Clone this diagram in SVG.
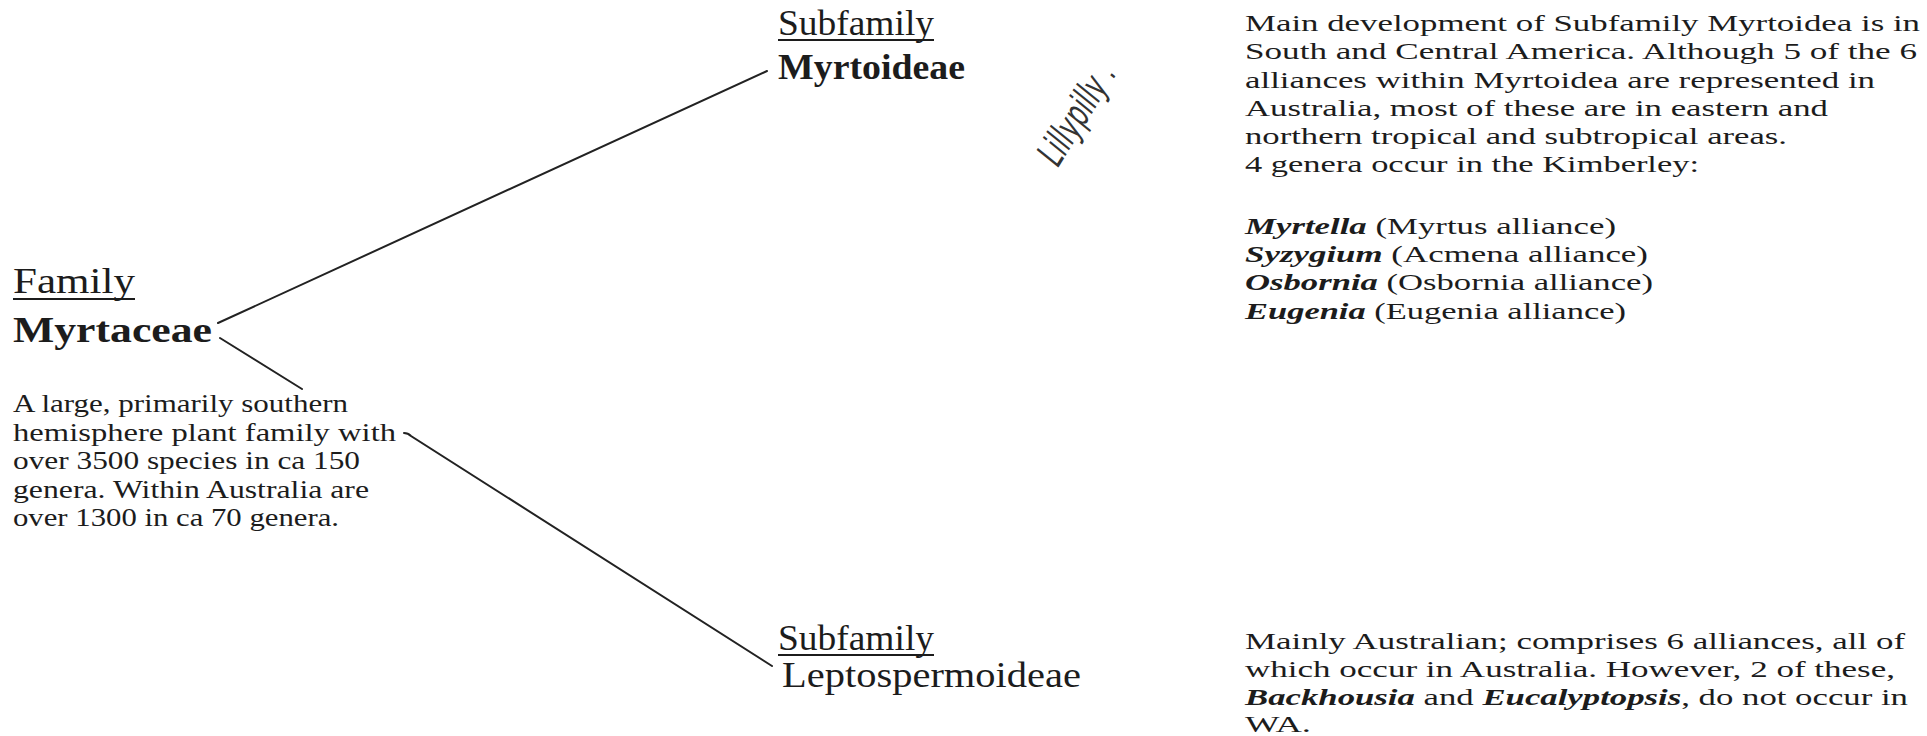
<svg xmlns="http://www.w3.org/2000/svg" width="1927" height="736" viewBox="0 0 1927 736">
<style>
  text { font-family: "Liberation Serif", "Times New Roman", serif; fill: #1c1c1c; }
  .head { font-size: 35px; }
  .bold { font-weight: bold; }
  .para { font-size: 25px; }
  .note { font-size: 24px; }
  .bi { font-style: italic; font-weight: bold; }
  .ul { stroke: #1c1c1c; stroke-width: 2; }
  .conn { stroke: #222; stroke-width: 2; fill: none; stroke-linecap: round; }
  .hand { font-family: "DejaVu Sans", "Liberation Sans", sans-serif; font-style: italic; font-weight: 200; font-size: 38px; fill: #333; }
</style>
<rect width="1927" height="736" fill="#ffffff"/>

<g id="connectors">
  <path class="conn" d="M218,323 L767,71"/>
  <path class="conn" d="M220,338 L302,389"/>
  <path class="conn" d="M404,433 Q408,433 411,436 L772,666"/>
</g>

<g id="family">
  <text class="head" x="13" y="293" font-size="38" textLength="122" lengthAdjust="spacingAndGlyphs">Family</text>
  <line class="ul" x1="13" y1="299" x2="135" y2="299"/>
  <text class="head bold" x="13" y="342" textLength="199" lengthAdjust="spacingAndGlyphs">Myrtaceae</text>
</g>

<g id="family-desc">
  <text class="para" x="13" y="412" textLength="335" lengthAdjust="spacingAndGlyphs">A large, primarily southern</text>
  <text class="para" x="13" y="441" textLength="383" lengthAdjust="spacingAndGlyphs">hemisphere plant family with</text>
  <text class="para" x="13" y="469" textLength="347" lengthAdjust="spacingAndGlyphs">over 3500 species in ca 150</text>
  <text class="para" x="13" y="498" textLength="356" lengthAdjust="spacingAndGlyphs">genera. Within Australia are</text>
  <text class="para" x="13" y="526" textLength="326" lengthAdjust="spacingAndGlyphs">over 1300 in ca 70 genera.</text>
</g>

<g id="myrtoideae">
  <text class="head" x="778" y="35" font-size="33" textLength="156" lengthAdjust="spacingAndGlyphs">Subfamily</text>
  <line class="ul" x1="778" y1="40" x2="934" y2="40"/>
  <text class="head bold" x="778" y="79" font-size="34" textLength="187" lengthAdjust="spacingAndGlyphs">Myrtoideae</text>
</g>

<g id="leptospermoideae">
  <text class="head" x="778" y="650" font-size="33" textLength="156" lengthAdjust="spacingAndGlyphs">Subfamily</text>
  <line class="ul" x1="778" y1="655" x2="934" y2="655"/>
  <text class="head" x="782" y="687" font-size="35" textLength="299" lengthAdjust="spacingAndGlyphs">Leptospermoideae</text>
</g>

<g id="lillypilly">
  <text class="hand" transform="translate(1058,168) rotate(-58)" textLength="112" lengthAdjust="spacingAndGlyphs">Lillypilly .</text>
</g>

<g id="myrtoideae-note">
  <text class="note" x="1245" y="31" textLength="675" lengthAdjust="spacingAndGlyphs">Main development of Subfamily Myrtoidea is in</text>
  <text class="note" x="1245" y="59" textLength="672" lengthAdjust="spacingAndGlyphs">South and Central America. Although 5 of the 6</text>
  <text class="note" x="1245" y="88" textLength="630" lengthAdjust="spacingAndGlyphs">alliances within Myrtoidea are represented in</text>
  <text class="note" x="1245" y="116" textLength="583" lengthAdjust="spacingAndGlyphs">Australia, most of these are in eastern and</text>
  <text class="note" x="1245" y="144" textLength="542" lengthAdjust="spacingAndGlyphs">northern tropical and subtropical areas.</text>
  <text class="note" x="1245" y="172" textLength="454" lengthAdjust="spacingAndGlyphs">4 genera occur in the Kimberley:</text>
  <text class="note" x="1245" y="234" textLength="371" lengthAdjust="spacingAndGlyphs"><tspan class="bi">Myrtella</tspan> (Myrtus alliance)</text>
  <text class="note" x="1245" y="262" textLength="403" lengthAdjust="spacingAndGlyphs"><tspan class="bi">Syzygium</tspan> (Acmena alliance)</text>
  <text class="note" x="1245" y="290" textLength="408" lengthAdjust="spacingAndGlyphs"><tspan class="bi">Osbornia</tspan> (Osbornia alliance)</text>
  <text class="note" x="1245" y="319" textLength="381" lengthAdjust="spacingAndGlyphs"><tspan class="bi">Eugenia</tspan> (Eugenia alliance)</text>
</g>

<g id="leptospermoideae-note">
  <text class="note" x="1245" y="649" textLength="660" lengthAdjust="spacingAndGlyphs">Mainly Australian; comprises 6 alliances, all of</text>
  <text class="note" x="1245" y="677" textLength="650" lengthAdjust="spacingAndGlyphs">which occur in Australia. However, 2 of these,</text>
  <text class="note" x="1245" y="705" textLength="663" lengthAdjust="spacingAndGlyphs"><tspan class="bi">Backhousia</tspan> and <tspan class="bi">Eucalyptopsis</tspan>, do not occur in</text>
  <text class="note" x="1245" y="732" textLength="66" lengthAdjust="spacingAndGlyphs">WA.</text>
</g>
</svg>
